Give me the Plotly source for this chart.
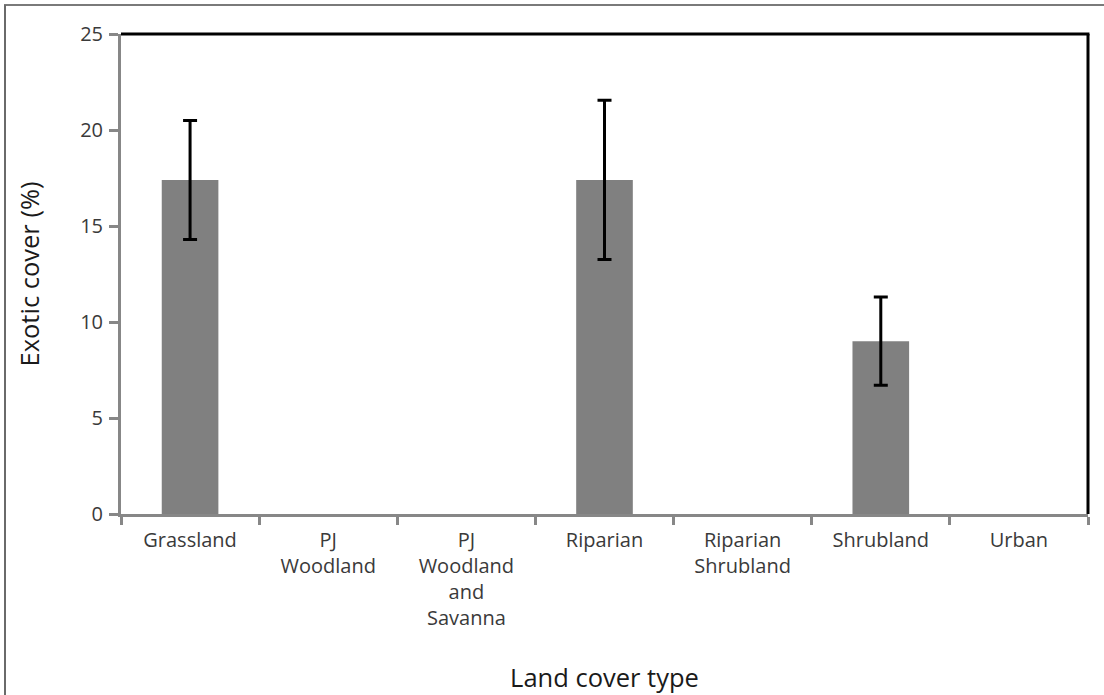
import plotly.graph_objects as go

categories = ["Grassland", "PJ<br>Woodland", "PJ<br>Woodland<br>and<br>Savanna", "Riparian",
              "Riparian<br>Shrubland", "Shrubland", "Urban"]
exotic_cover = [17.4, 0, 0, 17.4, 0, 9.0, 0]
error_vals = [3.1, 0, 0, 4.15, 0, 2.3, 0]
y_ticks = [0, 5, 10, 15, 20, 25]

W, H = 1104, 695
L, R, T, B = 121, 16, 34, 181
pw, ph = W - L - R, H - T - B

def px_x(x):
    return (x - L) / pw

def px_y(y):
    return (H - B - y) / ph

font_family = "Open Sans, Noto Sans, sans-serif"
axis_grey = "#878787"

# only the categories with a measured spread carry an error bar
err_idx = [i for i, e in enumerate(error_vals) if e > 0]

fig = go.Figure()
fig.add_trace(go.Bar(
    x=categories, y=exotic_cover,
    marker=dict(color="#808080", line=dict(width=0)),
    showlegend=False, hoverinfo="x+y",
))
fig.add_trace(go.Scatter(
    x=[categories[i] for i in err_idx], y=[exotic_cover[i] for i in err_idx],
    mode="markers", marker=dict(size=1, opacity=0),
    error_y=dict(type="data", array=[error_vals[i] for i in err_idx], visible=True,
                 color="black", thickness=3, width=7),
    showlegend=False,
))

fig.update_layout(
    width=W, height=H,
    margin=dict(l=L, r=R, t=T, b=B, autoexpand=False),
    paper_bgcolor="white", plot_bgcolor="white",
    bargap=0.59,
    font=dict(family=font_family, color="#333333"),
    xaxis=dict(
        showgrid=False, showline=True, linecolor=axis_grey, linewidth=3,
        ticks="outside", tickson="boundaries", ticklen=8, tickwidth=3, tickcolor=axis_grey,
        tickfont=dict(size=20, color="#3a3a3a"), tickangle=0, ticklabelstandoff=6,
        title=dict(text="Land cover type", font=dict(size=25.5, color="#1a1a1a"), standoff=40),
        automargin=False,
    ),
    yaxis=dict(
        range=[0, 25], tickvals=y_ticks, showgrid=False, zeroline=False,
        showline=True, linecolor=axis_grey, linewidth=3,
        ticks="outside", ticklen=9, tickwidth=3, tickcolor=axis_grey,
        tickfont=dict(size=20, color="#3a3a3a"), ticklabelstandoff=2,
        title=dict(text="Exotic cover (%)", font=dict(size=25.5, color="#1a1a1a"), standoff=34),
        automargin=False,
    ),
    shapes=[
        # top and right black frame of plot area
        dict(type="line", xref="paper", yref="paper", x0=0, x1=1.0015, y0=1, y1=1,
             line=dict(color="black", width=3)),
        dict(type="line", xref="paper", yref="paper", x0=1, x1=1, y0=0, y1=1,
             line=dict(color="black", width=3)),
        # outer image frame (top and left)
        dict(type="line", xref="paper", yref="paper", x0=px_x(4), x1=px_x(W), y0=px_y(5), y1=px_y(5),
             line=dict(color="#7a7a7a", width=2)),
        dict(type="line", xref="paper", yref="paper", x0=px_x(5), x1=px_x(5), y0=px_y(5), y1=px_y(H),
             line=dict(color="#6a6a6a", width=2)),
    ],
)

fig.write_html("out.html", config={"displayModeBar": False},
               post_script="document.body.style.margin='0';")
